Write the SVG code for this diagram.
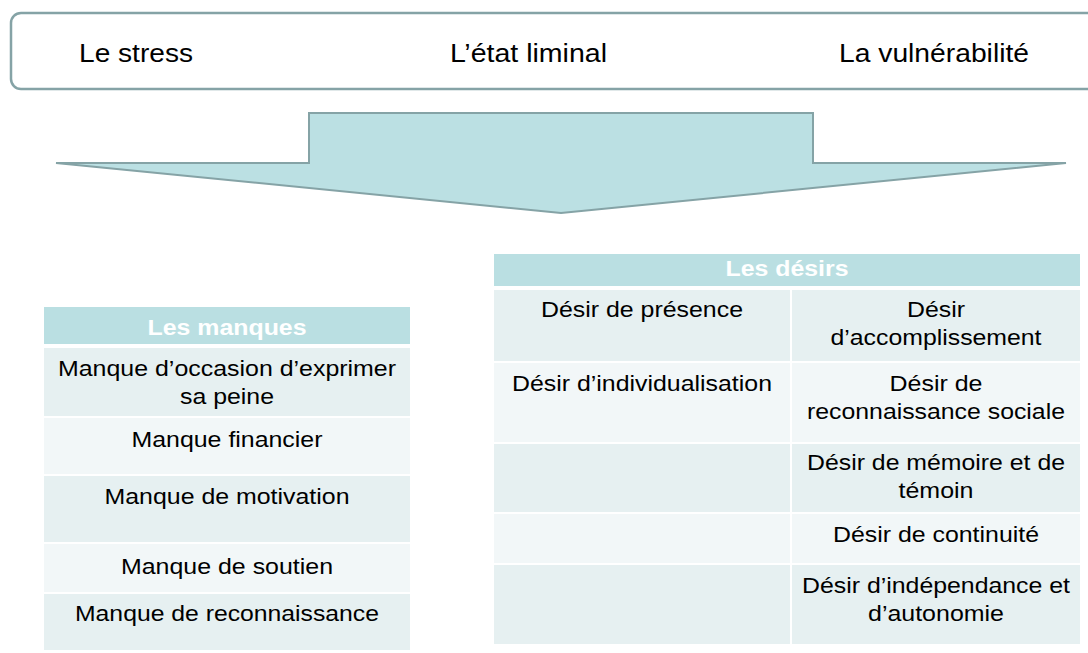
<svg xmlns="http://www.w3.org/2000/svg" width="1088" height="653" viewBox="0 0 1088 653">
<style>
text{font-family:"Liberation Sans",Arial,sans-serif;fill:#000;text-anchor:middle}
.top{font-size:25px;text-anchor:start}
.b{font-size:22px}
.h{font-size:22px;font-weight:bold;fill:#fff}
.hd{fill:#badfe2}
.r1{fill:#e6f0f1}
.r2{fill:#f2f7f8}
.outline{fill:#fff;stroke:#85a3a6;stroke-width:2.5}
.arrow{fill:#bbe0e3;stroke:#85a3a6;stroke-width:2;stroke-linejoin:miter}
</style>
<rect width="1088" height="653" fill="#fff"/>
<g id="top-box">
<rect class="outline" x="11" y="13" width="1100" height="76" rx="10"/>
<text class="top" x="79" y="62" textLength="114" lengthAdjust="spacingAndGlyphs">Le stress</text>
<text class="top" x="450" y="62" textLength="157" lengthAdjust="spacingAndGlyphs">L’état liminal</text>
<text class="top" x="839" y="62" textLength="190" lengthAdjust="spacingAndGlyphs">La vulnérabilité</text>
</g>
<g id="arrow">
<polygon class="arrow" points="56,163 309,163 309,113 813,113 813,163 1066,163 561,213"/>
</g>
<g id="connectors"></g>
<g id="manques">
<rect class="hd" x="44" y="307" width="366" height="37"/>
<rect class="r1" x="44" y="348" width="366" height="68"/>
<rect class="r2" x="44" y="418" width="366" height="56"/>
<rect class="r1" x="44" y="476" width="366" height="66"/>
<rect class="r2" x="44" y="544" width="366" height="48"/>
<rect class="r1" x="44" y="594" width="366" height="56"/>
<text class="h" x="227" y="335" textLength="159" lengthAdjust="spacingAndGlyphs">Les manques</text>
<text class="b" x="227" y="376" textLength="338" lengthAdjust="spacingAndGlyphs">Manque d’occasion d’exprimer</text>
<text class="b" x="227" y="404" textLength="94" lengthAdjust="spacingAndGlyphs">sa peine</text>
<text class="b" x="227" y="447" textLength="191" lengthAdjust="spacingAndGlyphs">Manque financier</text>
<text class="b" x="227" y="504" textLength="245" lengthAdjust="spacingAndGlyphs">Manque de motivation</text>
<text class="b" x="227" y="574" textLength="212" lengthAdjust="spacingAndGlyphs">Manque de soutien</text>
<text class="b" x="227" y="621" textLength="304" lengthAdjust="spacingAndGlyphs">Manque de reconnaissance</text>
</g>
<g id="desirs">
<rect class="hd" x="494" y="254" width="586" height="32"/>
<rect class="r1" x="494" y="290" width="296" height="71"/>
<rect class="r1" x="792" y="290" width="288" height="71"/>
<rect class="r2" x="494" y="363" width="296" height="79"/>
<rect class="r2" x="792" y="363" width="288" height="79"/>
<rect class="r1" x="494" y="444" width="296" height="68"/>
<rect class="r1" x="792" y="444" width="288" height="68"/>
<rect class="r2" x="494" y="514" width="296" height="49"/>
<rect class="r2" x="792" y="514" width="288" height="49"/>
<rect class="r1" x="494" y="565" width="296" height="79"/>
<rect class="r1" x="792" y="565" width="288" height="79"/>
<text class="h" x="787" y="276" textLength="123" lengthAdjust="spacingAndGlyphs">Les désirs</text>
<text class="b" x="642" y="317" textLength="202" lengthAdjust="spacingAndGlyphs">Désir de présence</text>
<text class="b" x="642" y="391" textLength="260" lengthAdjust="spacingAndGlyphs">Désir d’individualisation</text>
<text class="b" x="936" y="317" textLength="58" lengthAdjust="spacingAndGlyphs">Désir</text>
<text class="b" x="936" y="345" textLength="211" lengthAdjust="spacingAndGlyphs">d’accomplissement</text>
<text class="b" x="936" y="391" textLength="93" lengthAdjust="spacingAndGlyphs">Désir de</text>
<text class="b" x="936" y="419" textLength="258" lengthAdjust="spacingAndGlyphs">reconnaissance sociale</text>
<text class="b" x="936" y="470" textLength="258" lengthAdjust="spacingAndGlyphs">Désir de mémoire et de</text>
<text class="b" x="936" y="498" textLength="75" lengthAdjust="spacingAndGlyphs">témoin</text>
<text class="b" x="936" y="542" textLength="206" lengthAdjust="spacingAndGlyphs">Désir de continuité</text>
<text class="b" x="936" y="593" textLength="268" lengthAdjust="spacingAndGlyphs">Désir d’indépendance et</text>
<text class="b" x="936" y="621" textLength="136" lengthAdjust="spacingAndGlyphs">d’autonomie</text>
</g>
</svg>
